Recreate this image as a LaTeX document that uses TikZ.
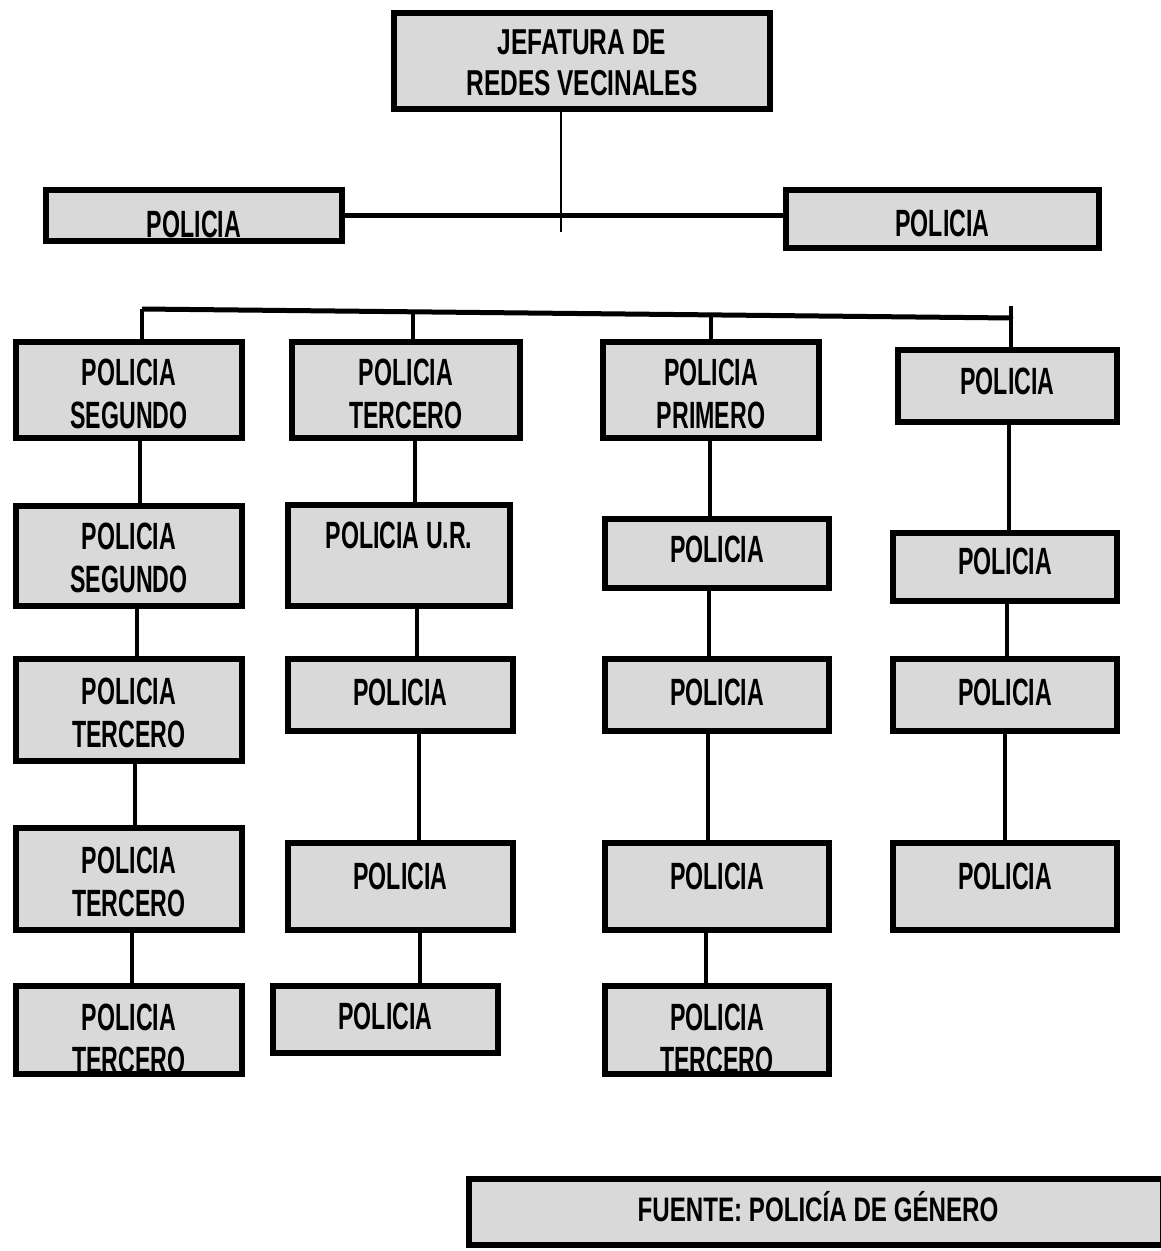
\documentclass[tikz,border=0pt]{standalone}
\usepackage{fontspec}
\newfontfamily\cf{Liberation Sans}[FakeStretch=0.61]
\newfontfamily\cft{Liberation Sans}[FakeStretch=0.68]
\newfontfamily\cfs{Liberation Sans}[FakeStretch=0.71]
\definecolor{boxgray}{HTML}{D9D9D9}
\tikzset{
  box/.style={draw=black, line width=6pt, fill=boxgray, inner sep=0pt},
  lbl/.style={font=\cf\bfseries\fontsize{38}{43}\selectfont, align=center, inner sep=0pt, text=black},
  toplbl/.style={font=\cft\bfseries\fontsize{36}{41}\selectfont, align=center, inner sep=0pt, text=black},
  srclbl/.style={font=\cfs\bfseries\fontsize{34}{40}\selectfont, align=center, inner sep=0pt, text=black},
  conn/.style={line width=3.5pt},
  thinconn/.style={line width=2pt},
  bus/.style={line width=5pt}
}
% \bx{name}{cx}{cy}{w}{h}{text y}{text}
\newcommand\bx[7]{%
  \node[box, minimum width=#4pt, minimum height=#5pt] (#1) at (#2,#3) {};
  \node[lbl] (#1t) at (#2,#6) {#7};}
\begin{document}
\begin{tikzpicture}[x=1pt,y=-1pt]
\useasboundingbox[fill=white] (0,0) rectangle (1160,1251);

% top
\node[box, minimum width=376pt, minimum height=96pt] (top) at (582,61) {};
\node[toplbl] (topt) at (582,63) {JEFATURA DE\\REDES VECINALES};

% side policia
\bx{pl}{194}{215.5}{296}{51}{224}{POLICIA}
\bx{pr}{942.5}{219}{313}{58}{223}{POLICIA}

% column 1
\bx{a1}{129}{390}{226}{96}{394}{POLICIA\\SEGUNDO}
\bx{a2}{129}{556}{226}{100}{558}{POLICIA\\SEGUNDO}
\bx{a3}{129}{710}{226}{102}{713}{POLICIA\\TERCERO}
\bx{a4}{129}{879}{226}{102}{882}{POLICIA\\TERCERO}
\bx{a5}{129}{1030}{226}{88}{1039}{POLICIA\\TERCERO}

% column 2
\bx{b1}{406}{390}{228}{96}{394}{POLICIA\\TERCERO}
\bx{b2}{399}{555.5}{222}{101}{535}{POLICIA U.R.}
\bx{b3}{400.5}{695}{225}{72}{692}{POLICIA}
\bx{b4}{400.5}{886.5}{225}{87}{876}{POLICIA}
\bx{b5}{385.5}{1019.5}{225}{67}{1016}{POLICIA}

% column 3
\bx{c1}{711}{390}{216}{96}{394}{POLICIA\\PRIMERO}
\bx{c2}{717}{553.5}{224}{69}{549.5}{POLICIA}
\bx{c3}{717}{695}{224}{72}{692}{POLICIA}
\bx{c4}{717}{886.5}{224}{87}{876}{POLICIA}
\bx{c5}{717}{1030}{224}{88}{1039}{POLICIA\\TERCERO}

% column 4
\bx{d1}{1007.5}{386}{219}{72}{381}{POLICIA}
\bx{d2}{1005}{567}{224}{68}{561}{POLICIA}
\bx{d3}{1005}{695}{224}{72}{692}{POLICIA}
\bx{d4}{1005}{886.5}{224}{87}{876}{POLICIA}

% source
\node[box, minimum width=694pt, minimum height=66pt] (fu) at (816,1212) {};
\node[srclbl] (fut) at (818,1207) {FUENTE: POLICÍA DE GÉNERO};

% connectors top
\coordinate (tend) at (561,232);
\draw[thinconn] (top.south -| tend) -- (tend);
\draw[bus] (pl.east) -- (pl.east -| pr.west);

% bus
\coordinate (j1) at (142,309);
\coordinate (j2) at (413,311);
\coordinate (j3) at (711,315);
\coordinate (j4) at (1013,318);
\coordinate (j4t) at (1011,306);
\draw[bus] (j1) -- (j4);
\draw[conn] (j1) -- (a1.north -| j1);
\draw[conn] (j2) -- (b1.north -| j2);
\draw[conn] (j3) -- (c1.north -| j3);
\draw[conn] (j4t) -- (d1.north -| j4t);

% column 1 links
\draw[conn] (a1.south -| 140,0) -- (a2.north -| 140,0);
\draw[conn] (a2.south -| 137,0) -- (a3.north -| 137,0);
\draw[conn] (a3.south -| 135,0) -- (a4.north -| 135,0);
\draw[conn] (a4.south -| 132,0) -- (a5.north -| 132,0);

% column 2 links
\draw[conn] (b1.south -| 415,0) -- (b2.north -| 415,0);
\draw[conn] (b2.south -| 417,0) -- (b3.north -| 417,0);
\draw[conn] (b3.south -| 419,0) -- (b4.north -| 419,0);
\draw[conn] (b4.south -| 420,0) -- (b5.north -| 420,0);

% column 3 links
\draw[conn] (c1.south -| 710,0) -- (c2.north -| 710,0);
\draw[conn] (c2.south -| 709,0) -- (c3.north -| 709,0);
\draw[conn] (c3.south -| 708,0) -- (c4.north -| 708,0);
\draw[conn] (c4.south -| 706,0) -- (c5.north -| 706,0);

% column 4 links
\draw[conn] (d1.south -| 1009,0) -- (d2.north -| 1009,0);
\draw[conn] (d2.south -| 1007,0) -- (d3.north -| 1007,0);
\draw[conn] (d3.south -| 1005,0) -- (d4.north -| 1005,0);
\end{tikzpicture}
\end{document}
